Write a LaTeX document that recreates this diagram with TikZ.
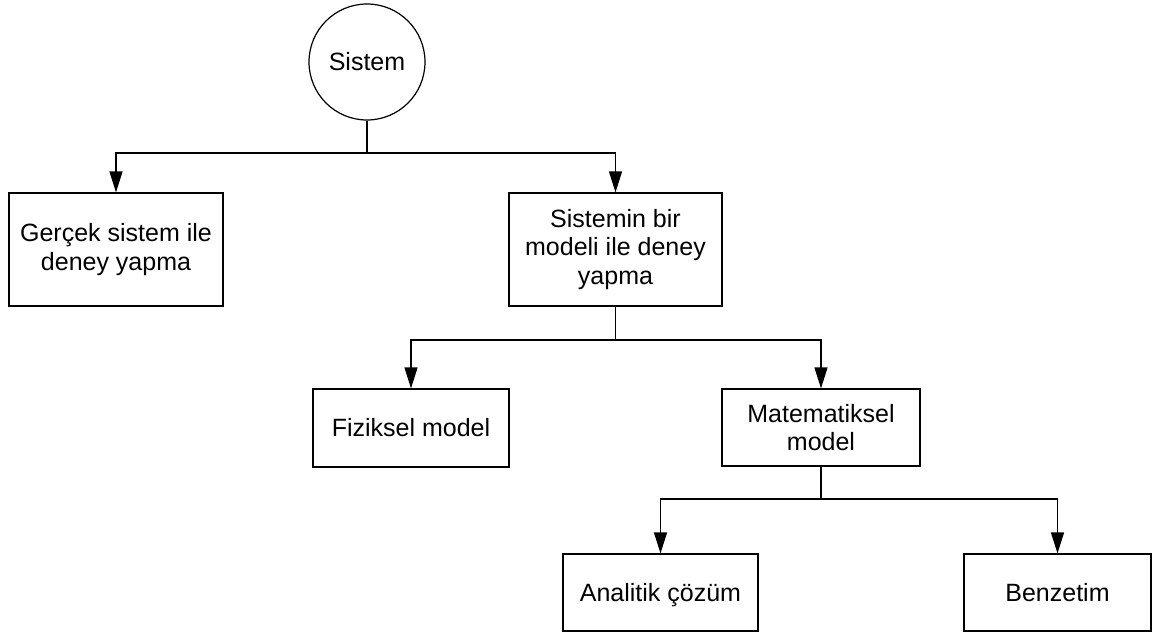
\documentclass[tikz,border=0pt]{standalone}
\usepackage{fontspec}
\setmainfont{Liberation Sans}
\usetikzlibrary{arrows.meta}
\begin{document}
\begin{tikzpicture}[x=1pt,y=-1pt,
  every node/.style={font=\fontsize{25}{28.5}\selectfont, align=center, inner sep=0pt},
  box/.style={draw, line width=1.2pt, rectangle},
  circ/.style={draw, line width=1.2pt, circle, minimum size=116pt},
  link/.style={line width=1.2pt},
  arr/.style={line width=1.2pt, -{Triangle[length=21pt,width=13pt]}}]
\useasboundingbox (0,0) rectangle (1163,634);

% nodes
\node[circ] (sys) at (367,62) {Sistem};
\node[box, minimum width=214pt, minimum height=113pt] (real) at (116,249.5) {Gerçek sistem ile\\deney yapma};
\node[box, minimum width=213pt, minimum height=113pt] (model) at (615.5,249.5) {Sistemin bir\\modeli ile deney\\yapma};
\node[box, minimum width=196pt, minimum height=78pt] (fiz) at (411,428) {Fiziksel model};
\node[box, minimum width=198pt, minimum height=77pt] (mat) at (821,427.5) {Matematiksel\\model};
\node[box, minimum width=195pt, minimum height=77pt, text depth=0pt] (anal) at (660.5,592.5) {Analitik çözüm};
\node[box, minimum width=187pt, minimum height=77pt] (benz) at (1057.5,592.5) {Benzetim};

% branch points
\coordinate (j1) at (367,153);
\coordinate (j2) at (615.5,340);
\coordinate (j3) at (821,499);

% connectors
\draw[link] (sys.south) -- (j1);
\draw[arr] (j1) -| (real.north);
\draw[arr] (j1) -| (model.north);
\draw[link] (model.south) -- (j2);
\draw[arr] (j2) -| (fiz.north);
\draw[arr] (j2) -| (mat.north);
\draw[link] (mat.south) -- (j3);
\draw[arr] (j3) -| (anal.north);
\draw[arr] (j3) -| (benz.north);
\end{tikzpicture}
\end{document}
